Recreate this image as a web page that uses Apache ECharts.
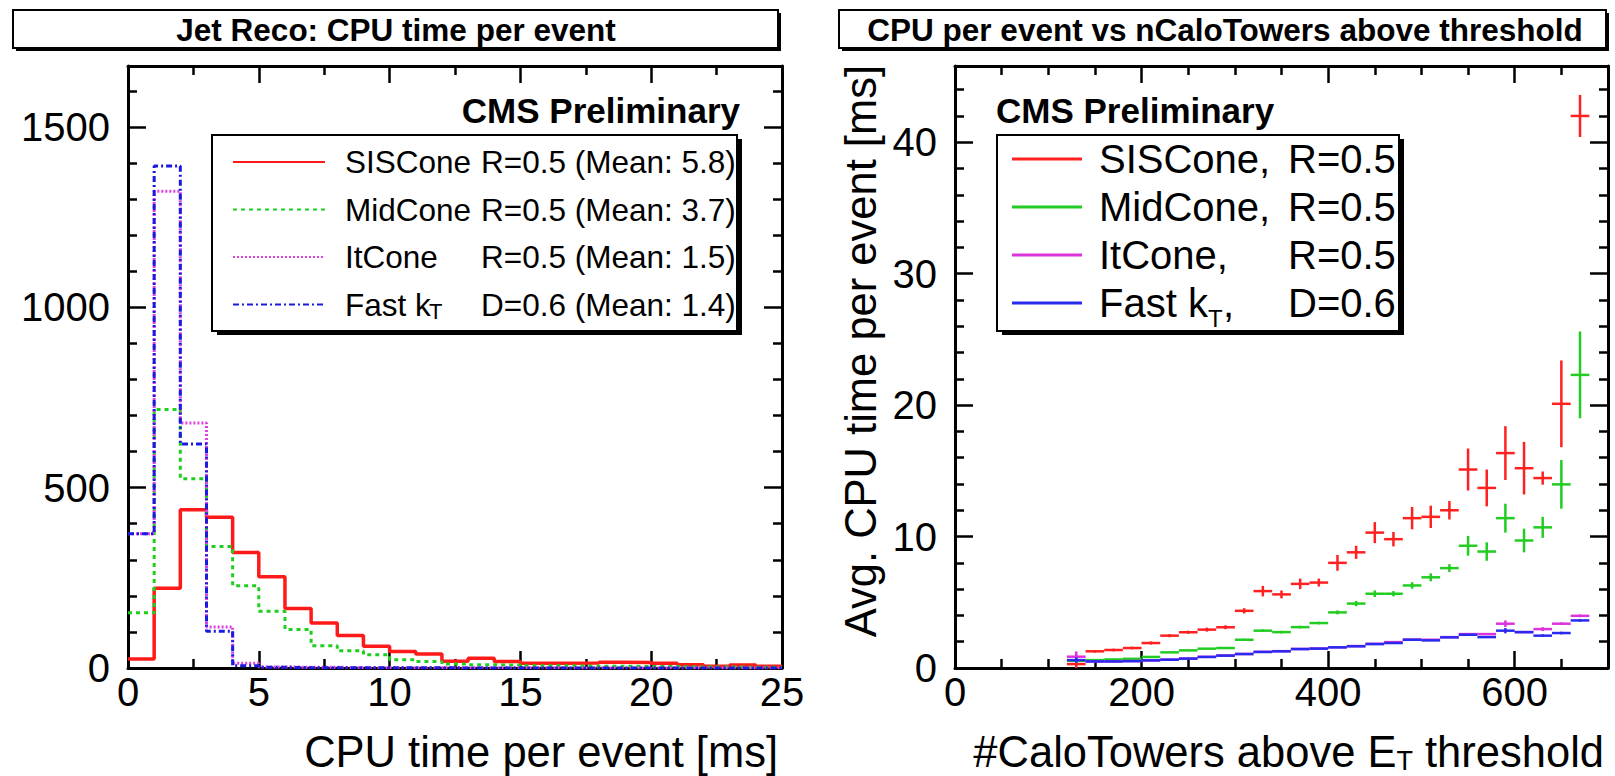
<!DOCTYPE html>
<html>
<head>
<meta charset="utf-8">
<script src="https://cdn.jsdelivr.net/npm/echarts@6/dist/echarts.min.js"></script>
<style>
html,body{margin:0;padding:0;background:#fff;}
#chart{width:1615px;height:776px;}
</style>
</head>
<body>
<div id="chart"></div>
<script>
// ---------------- DATA ----------------
// Left panel: histogram of CPU time per event (bins of 1 ms from 0 to 25 ms)
const histEdges = [0,1,2,3,4,5,6,7,8,9,10,11,12,13,14,15,16,17,18,19,20,21,22,23,24,25];
const histNames = ['SISCone','MidCone','ItCone','Fast k'];
const histSubs = ['','','','T'];
const histParams = ['R=0.5','R=0.5','R=0.5','D=0.6'];
const histMeans = ['5.8','3.7','1.5','1.4'];
const sisConeHist = [25,221,439,418,320,253,165,125,90,60,46,39,19,27,18,13,13,14,16,15,13,9,5,8,5];
const midConeHist = [153,717,525,337,228,157,107,62,48,37,23,18,11,9,8,6,6,5,5,4,4,3,3,2,2];
const itConeHist  = [372,1322,679,114,13,3,2,2,1,1,1,1,1,1,1,1,0,0,0,0,0,0,0,0,0];
const fastKtHist  = [372,1392,621,102,6,2,1,1,1,1,1,1,0,0,0,0,0,0,0,0,0,0,0,0,0];
const leftXTicks = [0,5,10,15,20,25];
const leftYTicks = [0,500,1000,1500];
const leftYMax = 1669;
const leftXTitle = 'CPU time per event [ms]';

// Right panel: average CPU time vs number of CaloTowers (bins of 20 towers)
const towerCenters = [130,150,170,190,210,230,250,270,290,310,330,350,370,390,410,430,450,470,490,510,530,550,570,590,610,630,650,670];
const towerBinWidth = 20;
const profNames = ['SISCone,','MidCone,','ItCone,','Fast k'];
const profSubs = ['','','','T'];
const profParams = ['R=0.5','R=0.5','R=0.5','D=0.6'];
const sisConeCpu    = [0.3,1.27,1.37,1.52,1.9,2.46,2.72,2.92,3.1,4.35,5.85,5.6,6.4,6.5,8.0,8.8,10.3,9.8,11.4,11.5,12.0,15.1,13.7,16.35,15.2,14.45,20.1,42.0];
const sisConeCpuErr = [0.3,0.1,0.1,0.1,0.12,0.12,0.12,0.15,0.15,0.2,0.4,0.3,0.4,0.3,0.6,0.5,0.8,0.55,0.85,0.85,0.7,1.6,1.4,2.05,2.0,0.5,3.3,1.6];
const midConeCpu    = [0.55,0.6,0.65,0.7,0.84,1.19,1.34,1.47,1.52,2.15,2.84,2.73,3.11,3.42,4.23,4.9,5.65,5.65,6.28,6.9,7.6,9.3,8.86,11.4,9.7,10.7,13.97,22.3];
const midConeCpuErr = [0.15,0.05,0.05,0.05,0.05,0.05,0.05,0.05,0.05,0.08,0.1,0.1,0.1,0.1,0.15,0.2,0.25,0.2,0.25,0.3,0.3,0.75,0.7,1.1,0.9,0.8,1.85,3.3];
const itConeCpu     = [0.86,0.5,0.5,0.53,0.58,0.64,0.72,0.85,0.95,1.07,1.23,1.28,1.45,1.49,1.58,1.67,1.84,1.97,2.16,2.15,2.35,2.58,2.58,3.37,2.73,2.96,3.37,3.97];
const itConeCpuErr  = [0.4,0.05,0.05,0.05,0.05,0.05,0.05,0.05,0.05,0.05,0.05,0.05,0.05,0.05,0.05,0.05,0.05,0.05,0.05,0.05,0.05,0.05,0.05,0.25,0.05,0.15,0.1,0.1];
const fastKtCpu     = [0.6,0.5,0.5,0.52,0.58,0.63,0.71,0.84,0.94,1.06,1.22,1.27,1.44,1.47,1.57,1.65,1.82,1.9,2.15,2.1,2.33,2.53,2.35,2.84,2.73,2.46,2.66,3.62];
const fastKtCpuErr  = [0.2,0.05,0.05,0.05,0.05,0.05,0.05,0.05,0.05,0.05,0.05,0.05,0.05,0.05,0.05,0.05,0.05,0.05,0.05,0.05,0.05,0.05,0.05,0.2,0.05,0.1,0.1,0.1];
const rightXTicks = [0,200,400,600];
const rightYTicks = [0,10,20,30,40];
const rightXMax = 700;
const rightYMax = 45.8;
const rightXTitle = ['#CaloTowers above E', 'T', ' threshold'];
const rightYTitle = 'Avg. CPU time per event [ms]';

// ---------------- STYLE ----------------
const FONT = 'Liberation Sans, Arial, Helvetica, sans-serif';
const histColors = ['#ff1a1a','#1fcf1f','#e040e0','#1a1ae0'];
const histLineTypes = ['solid',[4,4],[2,2],[6,3,2,3]];
const histWidths = [3.5,3,3,3];
const profColors = ['#ff2020','#22cc22','#dd33dd','#2a2aee'];

function histData(vals){
  const d = vals.map((v,i)=>[histEdges[i], v]);
  d.push([histEdges[vals.length], vals[vals.length-1]]);
  return d;
}
const histVals = [sisConeHist, midConeHist, itConeHist, fastKtHist];
const histSeriesNames = histNames.map((n,i)=> n + histSubs[i] + ' ' + histParams[i] + ' (Mean: ' + histMeans[i] + ')');
const profVals = [sisConeCpu, midConeCpu, itConeCpu, fastKtCpu];
const profErrs = [sisConeCpuErr, midConeCpuErr, itConeCpuErr, fastKtCpuErr];
const profSeriesNames = profNames.map((n,i)=> n.replace(',','') + profSubs[i] + ', ' + profParams[i]);

function errRender(params, api){
  const x = api.value(0), y = api.value(1), e = api.value(2);
  const l = api.coord([x - towerBinWidth/2, y]);
  const r = api.coord([x + towerBinWidth/2, y]);
  const t = api.coord([x, y + e]);
  const b = api.coord([x, Math.max(0, y - e)]);
  const style = {stroke: api.visual('color'), lineWidth: 2.5};
  return {type:'group', children:[
    {type:'line', shape:{x1:l[0],y1:l[1],x2:r[0],y2:r[1]}, style: style},
    {type:'line', shape:{x1:t[0],y1:t[1],x2:b[0],y2:b[1]}, style: style}
  ]};
}

const series = [];
histVals.forEach((vals,i)=>{
  series.push({
    name: histSeriesNames[i], type:'line', xAxisIndex:0, yAxisIndex:0,
    step:'end', symbol:'none', showSymbol:false, animation:false,
    data: histData(vals),
    itemStyle:{color: histColors[i]},
    lineStyle:{color: histColors[i], width: histWidths[i], type: histLineTypes[i]},
    z: 3 + i
  });
});
profVals.forEach((vals,i)=>{
  series.push({
    name: profSeriesNames[i], type:'custom', xAxisIndex:2, yAxisIndex:2,
    renderItem: errRender, animation:false,
    encode:{x:0, y:1},
    itemStyle:{color: profColors[i]},
    data: towerCenters.map((x,k)=>[x, vals[k], profErrs[i][k]]),
    z: 3 + i
  });
});

// legends (rich text); every row has the same fragment structure so rows are equally tall
const LF = 31.5;
const leftRich = {
  g:{width:15, fontSize:22, padding:[14,0,0,0], fontFamily:FONT, color:'#000'},
  a:{width:136, fontSize:LF, fontFamily:FONT, color:'#000'},
  f:{width:84, fontSize:LF, fontFamily:FONT, color:'#000'},
  t:{width:52, fontSize:22, padding:[14,0,0,0], fontFamily:FONT, color:'#000'},
  b:{fontSize:LF, fontFamily:FONT, color:'#000'}
};
function leftFormatter(name){
  const i = histSeriesNames.indexOf(name);
  const rest = '{b|' + histParams[i] + ' (Mean: ' + histMeans[i] + ')}';
  if (histSubs[i]) return '{g|\u00a0}{f|' + histNames[i] + '}{t|' + histSubs[i] + '}' + rest;
  return '{g|\u00a0}{a|' + histNames[i] + '}' + rest;
}
const RF = 40;
const rightRich = {
  g:{width:12, fontSize:24, padding:[30,0,0,0], fontFamily:FONT, color:'#000'},
  a:{width:189, fontSize:RF, fontFamily:FONT, color:'#000'},
  f:{width:109, fontSize:RF, fontFamily:FONT, color:'#000'},
  t:{width:15, fontSize:24, padding:[30,0,0,0], fontFamily:FONT, color:'#000'},
  c:{width:65, fontSize:RF, fontFamily:FONT, color:'#000'},
  b:{fontSize:RF, fontFamily:FONT, color:'#000'}
};
function rightFormatter(name){
  const i = profSeriesNames.indexOf(name);
  const rest = '{b|' + profParams[i] + '}';
  if (profSubs[i]) return '{g|\u00a0}{f|' + profNames[i] + '}{t|' + profSubs[i] + '}{c|,}' + rest;
  return '{g|\u00a0}{a|' + profNames[i] + '}' + rest;
}

const plainNum = v => String(v);
const TF = 43.5;
const nameRich = {
  n:{fontSize:TF, fontFamily:FONT, color:'#000'},
  s:{fontSize:27, fontFamily:FONT, color:'#000', verticalAlign:'bottom', padding:[22,0,0,0], lineHeight:10}
};

function xAxisDef(grid, pos, ticks, max, minorSplit, showLabels, name, nameStyle){
  return {
    type:'value', gridIndex:grid, position:pos, min:ticks[0], max:max,
    interval: ticks[1]-ticks[0],
    axisLine:{show:true, onZero:false, lineStyle:{color:'#000', width:3}},
    axisTick:{show:true, inside:true, length:17, lineStyle:{color:'#000', width:2.5}},
    minorTick:{show:true, splitNumber:minorSplit, length:9, lineStyle:{color:'#000', width:2.5}},
    splitLine:{show:false}, minorSplitLine:{show:false},
    axisLabel:{show:showLabels, margin:4, fontSize:40, color:'#000', fontFamily:FONT, formatter: plainNum,
      showMaxLabel: max % (ticks[1]-ticks[0]) === 0, hideOverlap:false},
    name: name || '', nameLocation:'end', nameGap: -4, nameMoveOverlap:false,
    nameTextStyle: nameStyle || {}
  };
}
function yAxisDef(grid, pos, ticks, max, minorSplit, showLabels, name, nameStyle){
  return {
    type:'value', gridIndex:grid, position:pos, min:ticks[0], max:max,
    interval: ticks[1]-ticks[0],
    axisLine:{show:true, onZero:false, lineStyle:{color:'#000', width:3}},
    axisTick:{show:true, inside:true, length:18, lineStyle:{color:'#000', width:2.5}},
    minorTick:{show:true, splitNumber:minorSplit, length:9, lineStyle:{color:'#000', width:2.5}},
    splitLine:{show:false}, minorSplitLine:{show:false},
    axisLabel:{show:showLabels, margin:18, fontSize:40, color:'#000', fontFamily:FONT, formatter: plainNum,
      showMaxLabel:false, hideOverlap:false},
    name: name || '', nameLocation:'end', nameGap: 1, nameRotate: 90, nameMoveOverlap:false,
    nameTextStyle: nameStyle || {}
  };
}

const option = {
  backgroundColor:'#fff',
  animation:false,
  textStyle:{fontFamily:FONT},
  grid:[
    {left:128, top:66, width:654, height:602, containLabel:false, outerBoundsMode:'none'},
    {left:955, top:66, width:653, height:602, containLabel:false, outerBoundsMode:'none'}
  ],
  xAxis:[
    xAxisDef(0,'bottom',leftXTicks,leftXTicks[leftXTicks.length-1],2,true,'{n|' + leftXTitle + '}',
      {fontSize:TF, color:'#000', fontFamily:FONT, align:'right', verticalAlign:'middle', padding:[168,0,0,0], rich:nameRich}),
    xAxisDef(0,'top',leftXTicks,leftXTicks[leftXTicks.length-1],2,false),
    xAxisDef(1,'bottom',rightXTicks,rightXMax,4,true,'{n|' + rightXTitle[0] + '}{s|' + rightXTitle[1] + '}{n|' + rightXTitle[2] + '}',
      {fontSize:TF, color:'#000', fontFamily:FONT, align:'right', verticalAlign:'middle', padding:[168,0,0,0], rich:nameRich}),
    xAxisDef(1,'top',rightXTicks,rightXMax,4,false)
  ],
  yAxis:[
    yAxisDef(0,'left',leftYTicks,leftYMax,5,true),
    yAxisDef(0,'right',leftYTicks,leftYMax,5,false),
    yAxisDef(1,'left',rightYTicks,rightYMax,5,true,'{n|' + rightYTitle + '}',
      {fontSize:TF, color:'#000', fontFamily:FONT, align:'right', verticalAlign:'middle', padding:[0,0,188,0], rich:nameRich}),
    yAxisDef(1,'right',rightYTicks,rightYMax,5,false)
  ],
  legend:[
    {
      data: histSeriesNames, orient:'vertical', left:232, top:146, padding:0,
      itemWidth:92, itemHeight:14, itemGap:13.5, selectedMode:false,
      itemStyle:{opacity:0},
      formatter: leftFormatter,
      textStyle:{fontSize:LF, color:'#000', fontFamily:FONT, rich:leftRich},
      z:10
    },
    {
      data: profSeriesNames.map(n=>({name:n, icon:'rect'})), orient:'vertical', left:1012, top:139, padding:0,
      itemWidth:70, itemHeight:3, itemGap:1, selectedMode:false,
      formatter: rightFormatter,
      textStyle:{fontSize:RF, color:'#000', fontFamily:FONT, rich:rightRich},
      z:10
    }
  ],
  graphic:[
    // title boxes
    {type:'rect', z:1, shape:{x:16, y:13, width:765, height:38}, style:{fill:'#000'}},
    {type:'rect', z:2, shape:{x:13, y:10, width:765, height:38}, style:{fill:'#fff', stroke:'#000', lineWidth:2}},
    {type:'text', z:3, x:396, y:30, style:{text:'Jet Reco: CPU time per event', fontSize:31.5, fontWeight:'bold', fontFamily:FONT, fill:'#000', align:'center', verticalAlign:'middle'}},
    {type:'rect', z:1, shape:{x:842, y:13, width:767, height:38}, style:{fill:'#000'}},
    {type:'rect', z:2, shape:{x:839, y:10, width:767, height:38}, style:{fill:'#fff', stroke:'#000', lineWidth:2}},
    {type:'text', z:3, x:1225, y:30, style:{text:'CPU per event vs nCaloTowers above threshold', fontSize:31.5, fontWeight:'bold', fontFamily:FONT, fill:'#000', align:'center', verticalAlign:'middle'}},
    // CMS Preliminary
    {type:'text', z:3, x:740, y:110, style:{text:'CMS Preliminary', fontSize:35, fontWeight:'bold', fontFamily:FONT, fill:'#000', align:'right', verticalAlign:'middle'}},
    {type:'text', z:3, x:996, y:110, style:{text:'CMS Preliminary', fontSize:35, fontWeight:'bold', fontFamily:FONT, fill:'#000', align:'left', verticalAlign:'middle'}},
    // legend boxes
    {type:'rect', z:1, shape:{x:217, y:139, width:525, height:196}, style:{fill:'#000'}},
    {type:'rect', z:2, shape:{x:212, y:135, width:525, height:196}, style:{fill:'#fff', stroke:'#000', lineWidth:2}},
    {type:'rect', z:1, shape:{x:1002, y:139, width:402, height:196}, style:{fill:'#000'}},
    {type:'rect', z:2, shape:{x:997, y:135, width:402, height:196}, style:{fill:'#fff', stroke:'#000', lineWidth:2}}
  ],
  series: series
};

const chart = echarts.init(document.getElementById('chart'), null, {renderer:'svg', width:1615, height:776});
chart.setOption(option);
</script>
</body>
</html>
